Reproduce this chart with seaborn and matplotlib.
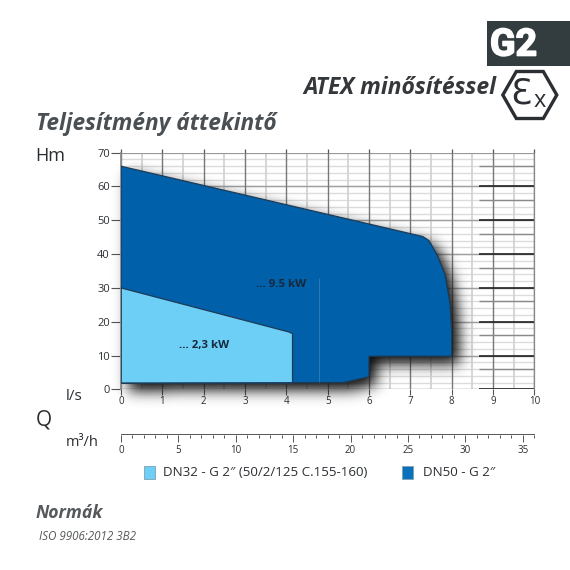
import numpy as np
import pandas as pd
import matplotlib
matplotlib.use("Agg")
import matplotlib.pyplot as plt
import matplotlib.patheffects as pe
import seaborn as sns
from matplotlib.patches import Polygon, Rectangle
from matplotlib.path import Path

dn50_q = [0, 7.3, 7.45, 7.64, 7.84, 7.96, 8, 8, 6, 6, 5.38, 0, 0]
dn50_h = [66, 45.2, 44, 40, 34, 25.4, 17.5, 9.8, 9.8, 3.7, 2, 1.8, 66]
dn32_q = [0, 4.05, 4.15, 4.15, 0, 0]
dn32_h = [30, 17, 16.5, 1.8, 1.8, 30]
h_ticks = list(range(0, 71, 10))
q_ticks = list(range(0, 11))
m3h_ticks = list(range(0, 36, 5))
series_names = ["DN32 - G 2\u2033 (50/2/125 C.155-160)", "DN50 - G 2\u2033"]
power_labels = ["... 9.5 kW", "... 2,3 kW"]

LIGHT = "#6ecff6"
DARK = "#0060a9"
INK = "#2b2f33"

sns.set_theme(style="white", rc={"font.family": ["Open Sans", "DejaVu Sans"]})
W = 570
fig = plt.figure(figsize=(5.7, 5.7), dpi=100, facecolor="white")

def axrect(l, t, r, b):
    return [l / W, 1 - b / W, (r - l) / W, (b - t) / W]

ax = fig.add_axes(axrect(121, 152.7, 534.3, 389.3))
ax.set_facecolor("white")

# grid
for v in np.arange(0, 70, 2):
    ax.axhline(v, color="#dcdcdc", lw=1.0, zorder=1)
for v in np.arange(0.5, 10, 1):
    ax.axvline(v, color="#d0d0d0", lw=1.2, zorder=1)
for v in h_ticks[:-1]:
    ax.axhline(v, color="#a0a0a0", lw=1.0, zorder=1.1)
for v in q_ticks:
    ax.axvline(v, color="#777777", lw=1.0, zorder=1.2)
ax.axhline(70, color="#999999", lw=1.6, zorder=1.2)
for v in np.arange(6, 70, 10):
    ax.hlines(v, 8.65, 10, color="#8a8a8a", lw=1.0, zorder=1.3)
for v in h_ticks[:-1]:
    ax.hlines(v, 8.65, 10, color="#222222", lw=1.2, zorder=1.3)
ax.vlines(q_ticks, 70, 71, color="#555555", lw=0.9, clip_on=False, zorder=1.3)

# soft drop shadow: the polygon's own mask, blurred and shifted
px_x, px_y = 41.33, 3.38
xs = np.arange(-1.5, 11, 1 / px_x)
ys = np.arange(-10, 78, 1 / px_y)
gx, gy = np.meshgrid(xs, ys)
shift_x, shift_y = 8 / px_x, 8 / px_y
mask = Path(np.column_stack([dn50_q, dn50_h])).contains_points(
    np.column_stack([(gx - shift_x).ravel(), (gy + shift_y).ravel()])).reshape(gx.shape).astype(float)
k = np.exp(-0.5 * (np.arange(-24, 25) / 7.0) ** 2)
k /= k.sum()
blur = np.apply_along_axis(lambda r: np.convolve(r, k, mode="same"), 0, mask)
blur = np.apply_along_axis(lambda r: np.convolve(r, k, mode="same"), 1, blur)
rgba = np.zeros(gx.shape + (4,))
rgba[..., :3] = 0.08
rgba[..., 3] = np.clip(1.05 * blur, 0, 1)
ax.imshow(rgba, extent=(xs[0], xs[-1], ys[0], ys[-1]), origin="lower", aspect="auto",
          zorder=2, clip_on=False, interpolation="bilinear")
ax.set_xlim(0, 10)
ax.set_ylim(0, 70)

# areas
ax.fill(dn50_q, dn50_h, color=DARK, lw=0, zorder=3)
ax.fill(dn32_q, dn32_h, color=LIGHT, lw=0, zorder=4)
ax.vlines(4.8, 1.8, 33, color="#2f78b5", lw=0.7, zorder=3.5)
outline = pd.concat([
    pd.DataFrame({"Q": dn50_q, "H": dn50_h, "s": "DN50"}),
    pd.DataFrame({"Q": dn32_q, "H": dn32_h, "s": "DN32"}),
])
sns.lineplot(data=outline, x="Q", y="H", units="s", estimator=None, sort=False,
             color="#1d3b57", lw=0.9, ax=ax, zorder=5, legend=False)

ax.text(3.87, 31, power_labels[0], ha="center", va="center", fontsize=8.2, fontweight="bold", color="#14293d", zorder=6)
ax.text(2.0, 13, power_labels[1], ha="center", va="center", fontsize=8.2, fontweight="bold", color="#14293d", zorder=6)

ax.set_xlabel("")
ax.set_ylabel("")
ax.set_xticks(q_ticks)
ax.set_yticks(h_ticks)
ax.tick_params(axis="y", length=7, width=0.8, color="#555555", labelsize=8, labelcolor=INK, pad=1, left=True)
ax.tick_params(axis="x", length=4, width=0.8, color="#555555", labelsize=7, labelcolor=INK, pad=1, bottom=True)
for s in ax.spines.values():
    s.set_visible(False)
ax.spines["right"].set_visible(True)
ax.spines["right"].set_color("#888888")
ax.spines["right"].set_linewidth(0.9)
ax.spines["left"].set_visible(True)
ax.spines["left"].set_color("#888888")

# m3/h scale
ax2 = fig.add_axes(axrect(121, 434, 534.3, 435))
ax2.set_xlim(0, 36)
ax2.set_ylim(0, 1)
ax2.set_yticks([])
ax2.set_xticks(m3h_ticks)
ax2.set_xticks(np.arange(0, 37), minor=True)
ax2.tick_params(axis="x", which="major", direction="out", length=5, width=0.7, color="#555555",
                labelsize=7, labelcolor=INK, pad=2, bottom=True)
ax2.tick_params(axis="x", which="minor", direction="out", length=2.2, width=0.7, color="#555555", bottom=True)
for s in ["left", "right", "bottom"]:
    ax2.spines[s].set_visible(False)
ax2.spines["top"].set_visible(True)
ax2.spines["top"].set_color("#555555")
ax2.spines["top"].set_linewidth(0.7)
ax2.patch.set_alpha(0)

def T(x, y, s, **kw):
    kw.setdefault("ha", "left")
    kw.setdefault("va", "center")
    return fig.text(x / W, 1 - y / W, s, **kw)

T(35, 156, "Hm", fontsize=13, color=INK)
T(66, 397, "l/s", fontsize=11, color=INK)
T(36, 420, "Q", fontsize=15, color=INK)
T(66, 442, "m\u00b3/h", fontsize=10.5, color=INK)

T(36, 124, "Teljes\u00edtm\u00e9ny \u00e1ttekint\u0151", fontsize=16.3, fontweight="bold", style="italic", color="#4a4f53")
T(303, 88, "ATEX min\u0151s\u00edt\u00e9ssel", fontsize=16.5, fontweight="bold", style="italic", color="#34383b")
T(36, 513, "Norm\u00e1k", fontsize=12.7, fontweight="bold", style="italic", color="#55595c")
T(39, 536, "ISO 9906:2012 3B2", fontsize=8.4, style="italic", color="#55595c")

# legend
for x, c, ec, name, tx in [(144, LIGHT, "#7f9fb0", series_names[0], 163), (402, "#0a72bd", "#7f9fb0", series_names[1], 423)]:
    fig.add_artist(Rectangle((x / W, 1 - 479 / W), 11 / W, 13 / W, fc=c, ec=ec, lw=0.6, transform=fig.transFigure))
    T(tx, 473, name, fontsize=9.6, color=INK)

# G2 badge
fig.add_artist(Rectangle((487 / W, 1 - 66 / W), 83 / W, 45 / W, fc="#333d3f", ec="none", transform=fig.transFigure))
T(490, 45, "G2", fontsize=27, fontweight="bold", color="white",
  family=["Roboto", "DejaVu Sans"],
  path_effects=[pe.withStroke(linewidth=1.2, foreground="white")])

# Ex hexagon
cx, cy, rx, ry = 529.8, 95, 27, 23.5
hex_pts = [(cx - rx, cy), (cx - rx / 2, cy - ry), (cx + rx / 2, cy - ry), (cx + rx, cy), (cx + rx / 2, cy + ry), (cx - rx / 2, cy + ry)]
fig.add_artist(Polygon([(x / W, 1 - y / W) for x, y in hex_pts], closed=True, fc="white", ec="#2b2f33", lw=2.4, transform=fig.transFigure))
T(521, 93, "\u0190", fontsize=25, color="#2b2f33", ha="center", family=["DejaVu Sans"])
T(539.5, 101, "x", fontsize=17, color="#2b2f33", ha="center")

fig.savefig("out.png", dpi=100, facecolor="white")
